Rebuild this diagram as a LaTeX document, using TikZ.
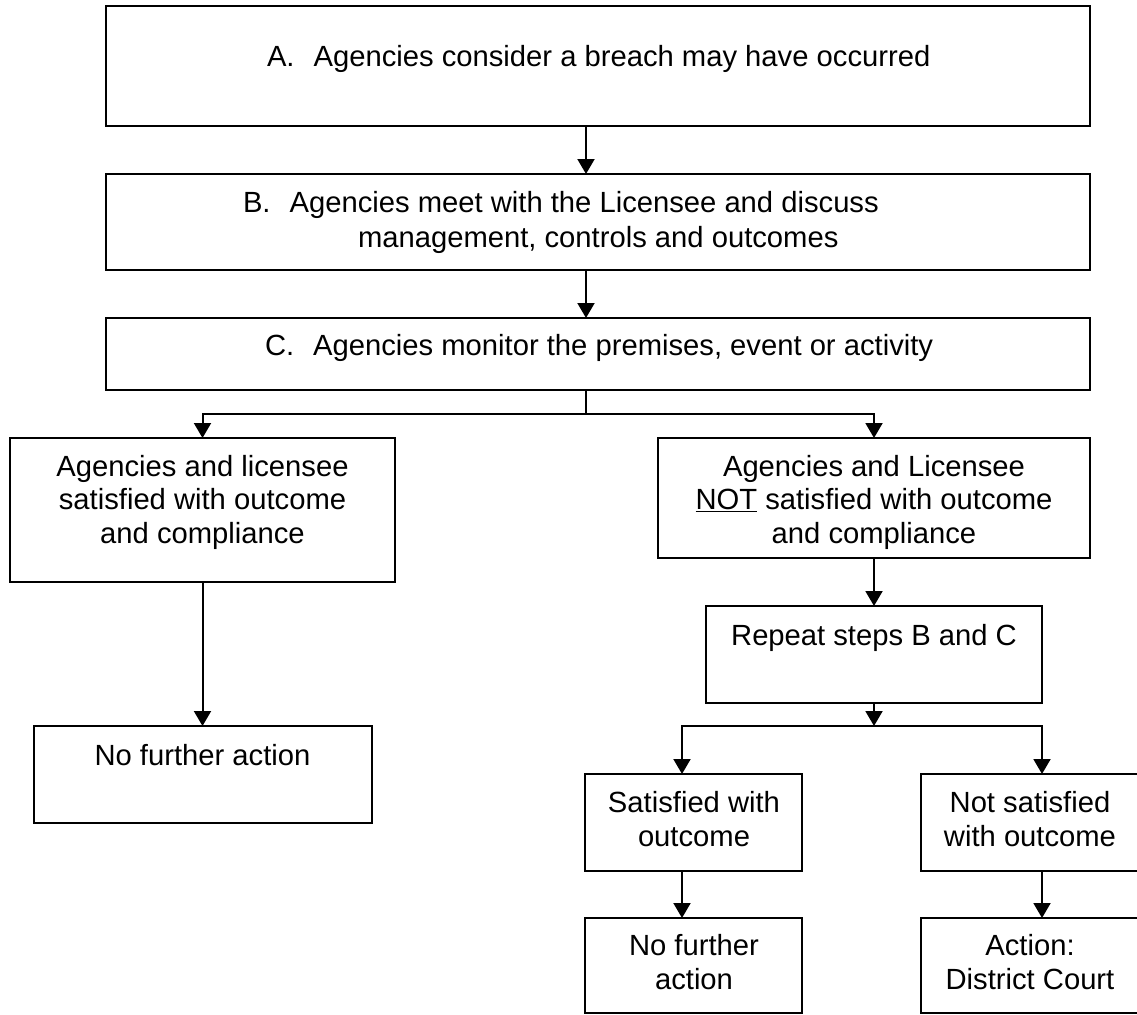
\documentclass[tikz,border=0pt]{standalone}
\usepackage{fontspec}
\setmainfont{Liberation Sans}
\usetikzlibrary{arrows.meta}
\begin{document}
\begin{tikzpicture}[x=1pt,y=-1pt,
  box/.style={draw=black,line width=2pt,inner sep=0pt,outer sep=0pt,anchor=north west},
  txt/.style={inner sep=0pt,outer sep=0pt,align=center,font=\fontsize{29.2}{33.5}\selectfont},
  link/.style={line width=2pt,draw=black},
  arr/.style={link,-{Triangle[width=17pt,length=15pt]}}]
\fill[white] (0,0) rectangle (1137,1014);
\useasboundingbox (0,0) rectangle (1137,1014);
% boxes
\node[box,minimum width=984pt,minimum height=120pt] (a) at (106,6) {};
\node[box,minimum width=984pt,minimum height=96pt] (b) at (106,174) {};
\node[box,minimum width=984pt,minimum height=72pt] (c) at (106,318) {};
\node[box,minimum width=385pt,minimum height=144pt] (l1) at (10,438) {};
\node[box,minimum width=432pt,minimum height=120pt] (r1) at (658,438) {};
\node[box,minimum width=338pt,minimum height=97pt] (l2) at (33.5,726) {};
\node[box,minimum width=336pt,minimum height=97pt] (rep) at (706,606) {};
\node[box,minimum width=217pt,minimum height=97pt] (s) at (585,774) {};
\node[box,minimum width=218pt,minimum height=97pt] (ns) at (921,774) {};
\node[box,minimum width=217pt,minimum height=95pt] (s2) at (585,918) {};
\node[box,minimum width=218pt,minimum height=95pt] (ns2) at (921,918) {};
% texts
\node[txt,anchor=base west] (ta) at (267,67) {A.\hspace{19pt}Agencies consider a breach may have occurred};
\node[txt,anchor=base west] (tb1) at (243,212) {B.\hspace{19pt}Agencies meet with the Licensee and discuss};
\node[txt,anchor=base west] (tb2) at (358,247) {management, controls and outcomes};
\node[txt,anchor=base west] (tc) at (265,355) {C.\hspace{19pt}Agencies monitor the premises, event or activity};
\node[txt,anchor=base] (tl1) at (202.5,543) {Agencies and licensee\\satisfied with outcome\\and compliance};
\node[txt,anchor=base] (tr1) at (874,543) {Agencies and Licensee\\\underline{NOT} satisfied with outcome\\and compliance};
\node[txt,anchor=base] (tl2) at (202.5,765) {No further action};
\node[txt,anchor=base] (trep) at (874,645) {Repeat steps B and C};
\node[txt,anchor=base] (ts) at (694,846) {Satisfied with\\outcome};
\node[txt,anchor=base] (tns) at (1030,846) {Not satisfied\\with outcome};
\node[txt,anchor=base] (ts2) at (694,989) {No further\\action};
\node[txt,anchor=base] (tns2) at (1030,989) {Action:\\District Court};
% connectors
\coordinate (spine) at (586,0);
\coordinate (j1) at (586,414);
\coordinate (j2) at (874,726);
\coordinate (sx) at (682,0);
\coordinate (nsx) at (1042,0);
\draw[arr] (spine |- a.south) -- (spine |- b.north);
\draw[arr] (spine |- b.south) -- (spine |- c.north);
\draw[link] (spine |- c.south) -- (j1);
\draw[arr] (j1) -| (l1.north);
\draw[arr] (j1) -| (r1.north);
\draw[arr] (l1.south) -- (l1.south |- l2.north);
\draw[arr] (r1.south) -- (rep.north);
\draw[arr] (rep.south) -- (j2);
\draw[arr] (j2) -| (sx |- s.north);
\draw[arr] (j2) -| (nsx |- ns.north);
\draw[arr] (sx |- s.south) -- (sx |- s2.north);
\draw[arr] (nsx |- ns.south) -- (nsx |- ns2.north);
\end{tikzpicture}
\end{document}
